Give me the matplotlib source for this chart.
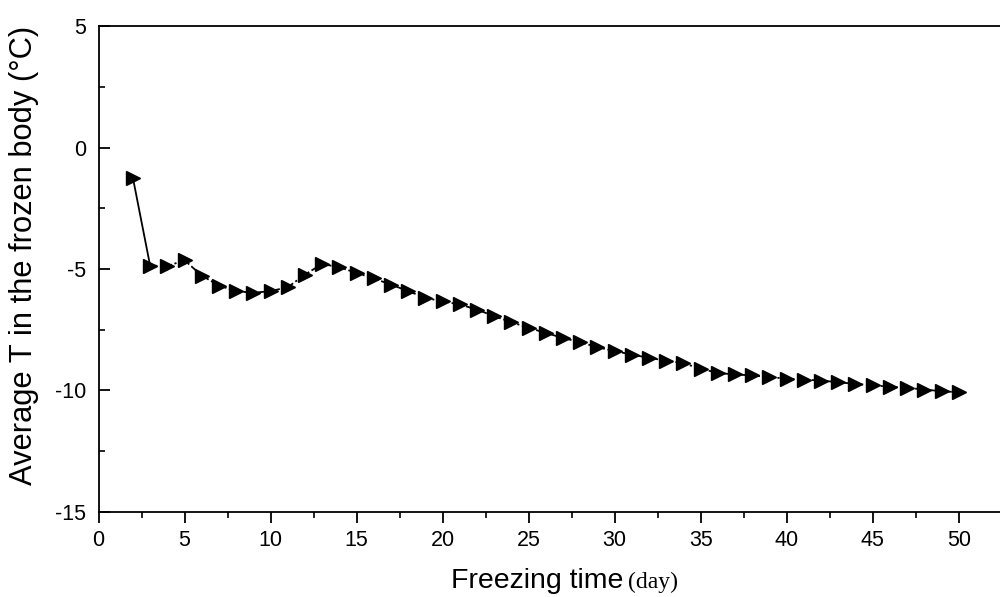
import matplotlib
matplotlib.use("Agg")
import matplotlib.pyplot as plt
from matplotlib.ticker import MultipleLocator

# Average temperature of the frozen body over the freezing period
days = list(range(2, 51))
avg_temp = [
    -1.25, -4.86, -4.88, -4.64, -5.27, -5.68, -5.91, -5.98, -5.91, -5.75,
    -5.23, -4.79, -4.93, -5.16, -5.39, -5.64, -5.91, -6.19, -6.33, -6.46,
    -6.67, -6.94, -7.19, -7.42, -7.63, -7.84, -8.01, -8.22, -8.38, -8.52,
    -8.66, -8.77, -8.88, -9.10, -9.28, -9.34, -9.38, -9.45, -9.51, -9.55,
    -9.59, -9.66, -9.73, -9.79, -9.84, -9.89, -9.96, -10.03, -10.07,
]

x_ticks = [0, 5, 10, 15, 20, 25, 30, 35, 40, 45, 50]
y_ticks = [-15, -10, -5, 0, 5]

plt.rcParams["font.family"] = ["Liberation Sans", "DejaVu Sans"]
plt.rcParams["axes.unicode_minus"] = False

fig = plt.figure(figsize=(10.0, 5.97), dpi=100)
left, bottom, top = 0.0985, 0.1424, 0.9564
ax = fig.add_axes([left, bottom, 1.0 - left, top - bottom])

# first step drawn solid, the remaining record dash-dotted
ax.plot(days[:2], avg_temp[:2], color="black", lw=1.3, ls="-", zorder=2)
ax.plot(days[1:], avg_temp[1:], color="black", lw=1.3,
        ls=(0, (4, 1.5, 1.2, 1.5)), zorder=2)
ax.plot(days, avg_temp, ls="none", marker=">", markersize=9.5,
        color="black", zorder=3)

ax.set_xlim(0, 52.4)
ax.set_ylim(-15, 5)
ax.set_xticks(x_ticks)
ax.set_yticks(y_ticks)
ax.xaxis.set_minor_locator(MultipleLocator(2.5))
ax.yaxis.set_minor_locator(MultipleLocator(2.5))

ax.spines["right"].set_visible(False)
for s in ("left", "bottom", "top"):
    ax.spines[s].set_linewidth(1.3)

ax.tick_params(axis="x", which="major", direction="out", length=8, width=1.3,
               labelsize=15.5, pad=5, top=False)
ax.tick_params(axis="x", which="minor", direction="out", length=4, width=1.2,
               top=False)
ax.tick_params(axis="y", which="major", direction="in", length=8, width=1.3,
               labelsize=15.5, pad=9, right=False)
ax.tick_params(axis="y", which="minor", direction="in", length=4.5, width=1.2,
               right=False)

ax.set_ylabel("Average T in the frozen body (°C)", fontsize=22.2)
ax.yaxis.set_label_coords(-0.066, 0.527)

# x label mixes a sans-serif phrase with a serif unit
ax.text(0.5818, -0.156, "Freezing time", transform=ax.transAxes,
        ha="right", va="baseline", fontsize=20.5)
ax.text(0.5874, -0.156, "(day)", transform=ax.transAxes,
        ha="left", va="baseline", fontsize=17,
        family=["Liberation Serif", "DejaVu Serif"])

fig.savefig("out.png", dpi=100, facecolor="white")
